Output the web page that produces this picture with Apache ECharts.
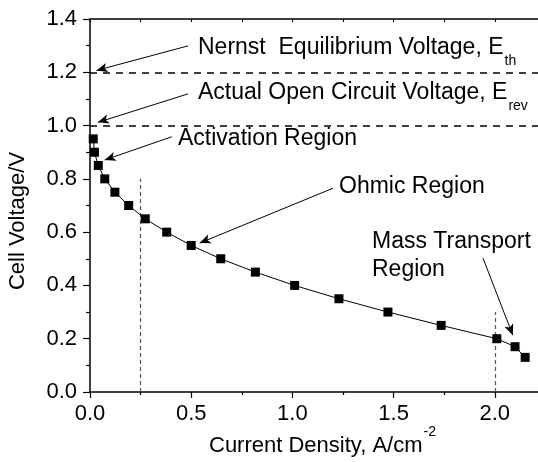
<!DOCTYPE html>
<html><head><meta charset="utf-8">
<script src="https://cdn.jsdelivr.net/npm/echarts@6/dist/echarts.min.js"></script>
<style>html,body{margin:0;padding:0;background:#fff}#c{width:538px;height:462px}</style>
</head><body><div id="c"></div>
<script>
// ---- data ----
const currentDensity = [0.016, 0.022, 0.041, 0.073, 0.123, 0.191, 0.273, 0.379, 0.500, 0.646, 0.817, 1.011, 1.230, 1.472, 1.735, 2.010, 2.100, 2.150];
const cellVoltage    = [0.95, 0.90, 0.85, 0.80, 0.75, 0.70, 0.65, 0.60, 0.55, 0.50, 0.45, 0.40, 0.35, 0.30, 0.25, 0.20, 0.17, 0.13];
const xTickLabels = ['0.0', '0.5', '1.0', '1.5', '2.0'];
const yTickLabels = ['0.0', '0.2', '0.4', '0.6', '0.8', '1.0', '1.2', '1.4'];
const nernstVoltage = 1.2;
const openCircuitVoltage = 1.0;
// region boundaries: [current density, top voltage of dashed marker]
const regionBoundaries = [[0.25, 0.80], [2.00, 0.30]];
// annotation arrows: [tail, head] in data units
const arrowTails = [[0.484, 1.299], [0.484, 1.119], [0.404, 0.958], [1.201, 0.765], [1.942, 0.502]];
const arrowHeads = [[0.032, 1.207], [0.039, 1.012], [0.073, 0.871], [0.542, 0.559], [2.089, 0.213]];

const FONT = "'Liberation Sans', Arial, Helvetica, sans-serif";
function textWidth(t, size) {
  const ctx = document.createElement('canvas').getContext('2d');
  ctx.font = size + 'px ' + FONT;
  return ctx.measureText(t).width;
}

const chart = echarts.init(document.getElementById('c'), null, {renderer: 'canvas'});

const pts = currentDensity.map((x, i) => [x, cellVoltage[i]]);

const markData = [];
markData.push([{yAxis: nernstVoltage, symbol: 'none', lineStyle: {color: '#000', width: 1.6, type: [7, 6]}}, {yAxis: nernstVoltage, symbol: 'none'}]);
// horizontal lines via x extent
const hl = [nernstVoltage, openCircuitVoltage].map(v => [
  {coord: [0, v], symbol: 'none', lineStyle: {color: '#000', width: 1.6, type: [7, 6]}},
  {coord: [2.25, v], symbol: 'none'}
]);
const vl = regionBoundaries.map(b => [
  {coord: [b[0], 0], symbol: 'none', lineStyle: {color: '#555', width: 1.2, type: [4, 3]}},
  {coord: [b[0], b[1]], symbol: 'none'}
]);
const arrows = arrowTails.map((t, i) => [
  {coord: t, symbol: 'none', lineStyle: {color: '#000', width: 1, type: 'solid'}},
  {coord: arrowHeads[i], symbol: 'arrow', symbolSize: [7, 11]}
]);

const SUBSZ = 14, ANN = 23, AX = 22;
const nernstMain = 'Nernst  Equilibrium Voltage, E';
const actualMain = 'Actual Open Circuit Voltage, E';
const xTitle = 'Current Density, A/cm';

function txt(text, x, y, size, extra) {
  return Object.assign({
    type: 'text', x: x, y: y, silent: true, z: 100,
    style: {text: text, font: size + 'px ' + FONT, fontSize: size, fontFamily: FONT, fill: '#000',
      textAlign: 'left', align: 'left', textVerticalAlign: 'middle', verticalAlign: 'middle'}
  }, extra || {});
}

const graphics = [
  txt(nernstMain, 198, 47.3, ANN),
  txt('th', 198 + textWidth(nernstMain, ANN) + 1, 61, SUBSZ),
  txt(actualMain, 198, 92.5, ANN),
  txt('rev', 198 + textWidth(actualMain, ANN) + 1, 106, SUBSZ),
  txt('Activation Region', 178, 138.5, ANN),
  txt('Ohmic Region', 339, 186.7, ANN),
  txt('Mass Transport', 372, 242, ANN),
  txt('Region', 372, 269.5, ANN),
  txt(xTitle, 209, 446, AX),
  txt('-2', 209 + textWidth(xTitle, AX) + 1, 432.5, SUBSZ),
  {type: 'text', x: 18, y: 221, rotation: Math.PI / 2, silent: true, z: 100,
   style: {text: 'Cell Voltage/V', font: AX + 'px ' + FONT, fontSize: AX, fontFamily: FONT, fill: '#000',
     textAlign: 'center', align: 'center', textVerticalAlign: 'middle', verticalAlign: 'middle'}}
];

const option = {
  animation: false,
  backgroundColor: '#fff',
  textStyle: {fontFamily: FONT},
  grid: {left: 90, right: -7.4, top: 19, bottom: 70, containLabel: false, outerBoundsMode: 'none'},
  xAxis: [{
    type: 'value', min: 0, max: 2.25, interval: 0.5, position: 'bottom',
    axisLine: {show: true, onZero: false, lineStyle: {color: '#000', width: 1.5}},
    axisTick: {show: true, inside: false, length: 6, lineStyle: {color: '#000', width: 1.2}},
    minorTick: {show: true, splitNumber: 2, length: 3, lineStyle: {color: '#000', width: 1.2}},
    axisLabel: {show: true, margin: 11, fontSize: AX, color: '#000', fontFamily: FONT,
      formatter: v => { const k = Math.round(v / 0.5); return Math.abs(v - k * 0.5) < 1e-6 && k < xTickLabels.length ? xTickLabels[k] : ''; }},
    splitLine: {show: false}
  }, {
    type: 'value', min: 0, max: 2.25, interval: 0.25, position: 'top',
    axisLine: {show: true, onZero: false, lineStyle: {color: '#000', width: 1.5}},
    axisTick: {show: true, inside: true, length: 3, lineStyle: {color: '#000', width: 1}},
    axisLabel: {show: false}, splitLine: {show: false}
  }],
  yAxis: {
    type: 'value', min: 0, max: 1.4, interval: 0.2,
    axisLine: {show: true, onZero: false, lineStyle: {color: '#000', width: 1.5}},
    axisTick: {show: true, inside: false, length: 7, lineStyle: {color: '#000', width: 1.2}},
    minorTick: {show: true, splitNumber: 2, length: 4, lineStyle: {color: '#000', width: 1.2}},
    axisLabel: {show: true, margin: 13, fontSize: AX, color: '#000', fontFamily: FONT,
      formatter: v => { const k = Math.round(v / 0.2); return yTickLabels[k] !== undefined ? yTickLabels[k] : ''; }},
    splitLine: {show: false}
  },
  series: [{
    type: 'line', xAxisIndex: 0, data: pts,
    symbol: 'rect', symbolSize: 9, showAllSymbol: true,
    itemStyle: {color: '#000'},
    lineStyle: {color: '#000', width: 1},
    emphasis: {disabled: true},
    silent: true, z: 5,
    markLine: {
      silent: true, animation: false, symbol: 'none',
      label: {show: false}, emphasis: {disabled: true},
      data: [].concat(hl, vl, arrows)
    }
  }],
  graphic: graphics
};
chart.setOption(option);
</script>
</body></html>
